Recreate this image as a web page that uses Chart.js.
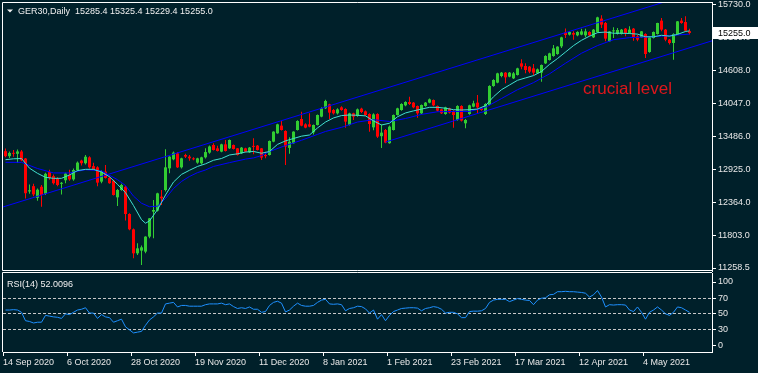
<!DOCTYPE html>
<html lang="en">
<head>
<meta charset="utf-8">
<title>GER30,Daily</title>
<script src="https://cdn.jsdelivr.net/npm/chart.js@4.4.1/dist/chart.umd.min.js"></script>
<style>
  html, body { margin: 0; padding: 0; background: #00202a; overflow: hidden; }
  #priceChart { position: absolute; left: 0; top: 0; }
  #rsiChart { position: absolute; left: 0; top: 272px; }
</style>
</head>
<body>
<canvas id="priceChart" width="758" height="273"></canvas>
<canvas id="rsiChart" width="758" height="101"></canvas>
<script>
// ---- data, one entry per daily bar (14 Sep 2020 .. 19 May 2021) ----
const opens = [
  13245,13160,13205,13200,13240,13120,12560,12650,12450,12640,
  12520,12890,12820,12780,12690,12750,12840,12765,12925,13085,
  13040,13140,12990,12970,12727,12897,12790,12744,12460,12585,
  12640,12177,11916,11508,11554,11537,11792,12217,12234,12472,
  12585,12953,13106,13208,12970,13180,13152,13123,13050,13038,
  13140,13220,13350,13293,13237,13361,13293,13350,13293,13208,
  13293,13225,13325,13339,13293,13180,13180,13407,13548,13679,
  13588,13300,13378,13605,13792,13701,13701,13565,13690,13832,
  13973,14041,13945,13888,13990,13962,13690,13888,13843,13968,
  13922,13877,13650,13877,13500,13605,13380,13605,13860,13945,
  14024,14081,14070,14013,13888,14013,14070,14115,14013,13956,
  13877,13973,13928,13775,14013,13719,13877,14002,14070,13973,
  13877,14030,14353,14410,14523,14580,14512,14483,14540,14738,
  14693,14682,14653,14568,14580,14738,14795,14863,14897,15027,
  15265,15226,15254,15214,15226,15214,15271,15180,15271,15498,
  15424,15112,15282,15237,15237,15328,15254,15328,15197,15180,
  15237,14931,15169,15237,15464,15311,15141,15084,15237,15464,
  15441,15285.4
];
const highs = [
  13290,13240,13265,13275,13265,13130,12680,12690,12610,12670,
  12880,12930,12850,12800,12720,12880,12930,12950,13070,13100,
  13180,13160,13050,12990,12920,13010,12810,12760,12600,12690,
  12660,12190,11930,11678,11640,11800,12110,12415,12540,12585,
  13276,13160,13240,13230,13135,13200,13180,13140,13135,13150,
  13293,13340,13378,13339,13370,13435,13445,13360,13300,13315,
  13305,13315,13463,13350,13300,13237,13425,13585,13710,13758,
  13600,13480,13585,13770,13917,13720,13888,13700,13870,13990,
  14120,14050,13960,13975,14010,13975,13900,13900,13970,13985,
  13935,13890,13890,13890,13700,13620,13680,13870,13985,14060,
  14095,14170,14080,14020,14040,14080,14140,14125,14020,13965,
  14000,13985,13940,14025,14025,13790,14035,14100,14200,13985,
  14060,14365,14466,14580,14590,14590,14590,14590,14665,14806,
  14738,14695,14727,14650,14720,14875,14920,15050,15030,15190,
  15330,15290,15282,15285,15328,15328,15285,15320,15530,15554,
  15440,15290,15350,15339,15320,15340,15367,15340,15226,15290,
  15250,15190,15280,15430,15509,15320,15150,15250,15460,15509,
  15537,15325.4
];
const lows = [
  13140,13130,13150,13045,13075,12440,12520,12480,12400,12300,
  12500,12760,12680,12650,12510,12700,12740,12740,12900,13000,
  13020,12950,12930,12650,12700,12780,12690,12490,12313,12570,
  12064,11900,11423,11480,11310,11508,11763,11763,12220,12330,
  12560,12868,13090,12960,12950,13130,13084,13090,13030,13020,
  13120,13200,13255,13240,13225,13240,13280,13275,13170,13195,
  13225,13215,13191,13255,13095,13123,13170,13395,13540,13595,
  13010,13200,13370,13595,13670,13635,13650,13530,13680,13820,
  13960,13792,13870,13870,13930,13645,13680,13775,13830,13895,
  13845,13577,13600,13470,13300,13380,13370,13595,13850,13930,
  14010,14030,13975,13815,13875,14000,14060,14010,13920,13875,
  13865,13885,13645,13760,13750,13633,13865,13990,13890,13930,
  13860,14020,14340,14400,14500,14398,14500,14470,14530,14636,
  14568,14568,14540,14555,14427,14725,14785,14850,14885,15000,
  15170,15210,15140,15200,15215,15180,15200,15170,15260,15339,
  15112,15100,15169,15230,15230,15197,15240,15124,15112,15170,
  14829,14920,15160,15230,15282,15112,15060,14801,15230,15410,
  15280,15229.4
];
const closes = [
  13160,13215,13200,13240,13090,12530,12580,12510,12590,12500,
  12860,12790,12700,12670,12700,12865,12765,12925,13050,13040,
  13150,12970,12940,12710,12897,12790,12700,12500,12585,12670,
  12177,11916,11508,11593,11610,11792,12103,12245,12528,12443,
  12970,13152,13220,12970,13123,13152,13123,13106,13123,13140,
  13230,13325,13265,13248,13361,13248,13435,13282,13180,13305,
  13237,13305,13318,13265,13135,13160,13418,13577,13701,13605,
  13322,13407,13577,13758,13679,13645,13662,13690,13860,13973,
  14098,13900,13888,13956,13945,13747,13888,13832,13956,13911,
  13860,13707,13870,13492,13560,13390,13662,13860,13973,14047,
  14081,14047,13990,13888,14030,14070,14126,14024,13934,13888,
  13990,13900,13860,14013,13764,13775,14024,14058,13990,13945,
  14047,14353,14455,14568,14580,14500,14580,14568,14653,14682,
  14625,14597,14580,14636,14710,14863,14908,14993,15022,15180,
  15220,15271,15226,15271,15282,15282,15214,15311,15520,15396,
  15158,15282,15294,15305,15311,15254,15311,15180,15141,15282,
  14897,15180,15271,15424,15311,15141,15084,15237,15452,15424,
  15294,15255.0
];

// moving averages (bar index, price)
const fastMaBars = [
  0,2,4,6,8,10,12,14,16,18,20,22,24,26,28,30,32,34,35,36,38,
  40,42,44,46,48,50,52,54,56,58,60,62,64,66,68,70,72,74,76,78,
  80,82,84,86,88,90,92,94,96,98,100,102,104,106,108,110,112,114,116,118,
  120,122,124,126,128,130,132,134,136,138,140,142,144,146,148,150,152,154,156,158,
  160,162,164,166,168,170,171
];
const fastMa = [
  13100,13115,13120,12955,12868,12800,12783,12783,12840,12915,12936,12936,12890,12810,12680,12540,12320,12080,12020,12060,12250,
  12500,12720,12850,12920,12985,13030,13090,13120,13180,13200,13230,13240,13210,13240,13360,13420,13460,13500,13520,13640,
  13740,13810,13850,13860,13855,13845,13760,13690,13720,13830,13895,13930,13960,13990,13990,13975,13950,13945,13950,13960,
  14020,14170,14290,14370,14450,14490,14530,14600,14720,14820,14930,15040,15130,15200,15260,15270,15250,15250,15245,15235,
  15190,15190,15215,15200,15230,15280,15290
];
const slowMaBars = [
  0,4,8,12,16,20,24,28,30,32,34,36,38,40,42,44,46,48,50,52,
  56,60,62,64,66,70,74,78,80,84,88,92,96,100,104,108,112,116,120,124,
  128,132,136,140,144,148,152,156,160,164,168,171
];
const slowMa = [
  13055,13055,12950,12875,12875,12930,12910,12760,12660,12480,12360,12300,12310,12440,12610,12730,12815,12880,12925,12985,
  13050,13110,13130,13170,13240,13340,13430,13530,13580,13650,13740,13780,13750,13800,13870,13915,13920,13920,13990,14140,
  14290,14410,14560,14740,14910,15040,15140,15175,15185,15200,15220,15235
];

// hand drawn channel
const upperChannelBars = [-0.625, 171];
const upperChannel = [12296, 15914];
const lowerChannelBars = [95, 176.625];
const lowerChannel = [13400, 15121];

const rsi = [
  55,55,55.5,55,52,41,40,38,39,39,
  48,47,46,45.5,44,50,49,52,55,56,
  58,51,51,44,49,46,45,39,41,43,
  33,29,25,26,27,35,42,46,51,51,
  63,64,65,59,61,61,60,60,60,60,
  62,63,63,63,64,62,63,59.5,57,58,
  57,59,56,56,52,53,61,65,66.5,64,
  52.5,55,60,64,61,60,60,61,65,68,
  69,63,62.5,63,62,54,57,58,60,59.5,
  56.5,51,55,43,49,41,48,53,55,57,
  57.5,58,58,57.5,54,57,58,59.5,58.5,56,
  51,52,52,50,45,45,53,53.5,53.5,54,
  57,65,68,69,69,69,66,68,70,69,
  68,67.5,62,68,70.5,71,75,75.5,79,79,
  79.5,79,79,78.5,78,77,72,75,80.5,72,
  59,62,61.5,62,62,61.5,55,53,59,52,
  43,52,55,59,55,50,48,52,59,58,
  55,52.0096
];

const priceTicks = [15730, 15169, 14608, 14047, 13486, 12925, 12364, 11803, 11258.5];
const dateTicks = ['14 Sep 2020', '6 Oct 2020', '28 Oct 2020', '19 Nov 2020', '11 Dec 2020', '8 Jan 2021',
                   '1 Feb 2021', '23 Feb 2021', '17 Mar 2021', '12 Apr 2021', '4 May 2021'];
const dateTickBars = [0, 16, 32, 48, 64, 80, 96, 112, 128, 144, 160];
const rsiLevels = [70, 50, 30];
const rsiTickValues = [91.7, 70, 50, 30, 7.9];   // 100 and 0 are drawn inset like the terminal does
const rsiTickText = ['100', '70', '50', '30', '0'];

// ---- drawing ----
Chart.defaults.font.family = "'Liberation Sans', Arial, sans-serif";
Chart.defaults.font.size = 9;
Chart.defaults.color = '#e8e8e8';

const BG = '#00202a';
const BULL = '#32cd32';
const BEAR = '#ff0000';
const X_MIN = -0.625;            // 4 px per bar over a 709 px wide plot
const X_MAX = X_MIN + 709 / 4;

const candleColor = i => closes[i] >= opens[i] ? BULL : BEAR;
const pts = (xs, ys) => xs.map((x, k) => ({ x: x, y: ys[k] }));
const lineDs = (data, color, order) => ({
  type: 'line', data: data, borderColor: color, borderWidth: 1,
  pointRadius: 0, tension: 0, order: order
});

const paintBg = {
  id: 'paintBg',
  beforeDraw(chart) {
    const ctx = chart.ctx;
    ctx.save();
    ctx.fillStyle = BG;
    ctx.fillRect(0, 0, chart.width, chart.height);
    ctx.restore();
  }
};

const priceDeco = {
  id: 'priceDeco',
  afterDraw(chart) {
    const { ctx, chartArea: a } = chart;
    const x = chart.scales.x, y = chart.scales.y;
    ctx.save();
    // frame
    ctx.strokeStyle = '#ffffff';
    ctx.lineWidth = 1;
    ctx.beginPath();
    ctx.moveTo(a.right, a.top + 0.5);
    ctx.lineTo(a.left - 0.5, a.top + 0.5);
    ctx.lineTo(a.left - 0.5, a.bottom - 0.5);
    ctx.lineTo(a.right, a.bottom - 0.5);
    ctx.stroke();

    // title
    ctx.fillStyle = '#f0f0f0';
    ctx.beginPath();
    ctx.moveTo(7, 9.5); ctx.lineTo(13, 9.5); ctx.lineTo(10, 12.5); ctx.closePath();
    ctx.fill();
    ctx.font = "9px 'Liberation Sans'";
    ctx.textBaseline = 'alphabetic';
    ctx.fillText('GER30,Daily  15285.4 15325.4 15229.4 15255.0', 18, 14);

    // note on the chart
    ctx.fillStyle = '#e0161b';
    ctx.font = "17px 'Liberation Sans'";
    ctx.fillText('crucial level', x.getPixelForValue(144.4), y.getPixelForValue(14217));

    // last price marker on the axis
    const last = closes[closes.length - 1];
    const yp = Math.round(y.getPixelForValue(last));
    ctx.fillStyle = '#ffffff';
    ctx.fillRect(a.right + 1, yp - 6, chart.width - a.right - 1, 12);
    ctx.fillStyle = '#000000';
    ctx.font = "9px 'Liberation Sans'";
    ctx.textBaseline = 'middle';
    ctx.fillText(last.toFixed(1), a.right + 6, yp + 0.5);
    ctx.restore();
  }
};

const rsiDeco = {
  id: 'rsiDeco',
  afterDraw(chart) {
    const { ctx, chartArea: a } = chart;
    ctx.save();
    ctx.strokeStyle = '#ffffff';
    ctx.lineWidth = 1;
    ctx.beginPath();
    ctx.moveTo(a.right, a.top - 0.5);
    ctx.lineTo(a.left - 0.5, a.top - 0.5);
    ctx.lineTo(a.left - 0.5, a.bottom);
    ctx.stroke();
    ctx.fillStyle = '#f0f0f0';
    ctx.font = "9px 'Liberation Sans'";
    ctx.fillText('RSI(14) ' + rsi[rsi.length - 1].toFixed(4), 7, 14.5);
    ctx.restore();
  }
};

new Chart(document.getElementById('priceChart'), {
  type: 'bar',
  data: {
    datasets: [
      lineDs(pts(fastMaBars, fastMa), '#40e0d0', 0),
      lineDs(pts(slowMaBars, slowMa), '#0000ff', 1),
      lineDs(pts(upperChannelBars, upperChannel), '#0000ff', 1),
      lineDs(pts(lowerChannelBars, lowerChannel), '#0000ff', 1),
      {
        data: closes.map((c, i) => ({ x: i, y: [opens[i], c] })),
        backgroundColor: ctx => candleColor(ctx.dataIndex),
        barThickness: 3, minBarLength: 1, grouped: false, inflateAmount: 0, order: 2
      },
      {
        data: highs.map((h, i) => ({ x: i, y: [lows[i], h] })),
        backgroundColor: ctx => candleColor(ctx.dataIndex),
        barThickness: 1, grouped: false, inflateAmount: 0, order: 3
      }
    ]
  },
  options: {
    responsive: false,
    animation: false,
    events: [],
    layout: { padding: { left: 3, top: 2, right: 0, bottom: 2 } },
    plugins: { legend: { display: false }, tooltip: { enabled: false } },
    scales: {
      x: { type: 'linear', min: X_MIN, max: X_MAX, offset: false, display: false },
      y: {
        position: 'right',
        min: 11207.5,
        max: 15781,
        afterBuildTicks: s => { s.ticks = priceTicks.map(v => ({ value: v })); },
        afterFit: s => { s.width = 46; s.paddingTop = 0; s.paddingBottom = 0; },
        ticks: { padding: 2, color: '#e8e8e8', callback: v => v.toFixed(1) },
        grid: { drawOnChartArea: false, color: '#ffffff', tickLength: 4 },
        border: { color: '#ffffff' }
      }
    }
  },
  plugins: [paintBg, priceDeco]
});

new Chart(document.getElementById('rsiChart'), {
  type: 'line',
  data: {
    datasets: [{
      data: rsi.map((v, i) => ({ x: i, y: v })),
      borderColor: '#1e90ff', borderWidth: 1, pointRadius: 0, tension: 0
    }]
  },
  options: {
    responsive: false,
    animation: false,
    events: [],
    layout: { padding: { left: 3, top: 1, right: 0, bottom: 0 } },
    plugins: { legend: { display: false }, tooltip: { enabled: false } },
    scales: {
      x: {
        type: 'linear', min: X_MIN, max: X_MAX, offset: false,
        afterBuildTicks: s => { s.ticks = dateTickBars.map(b => ({ value: b + X_MIN })); },
        afterFit: s => { s.height = 21; s.paddingLeft = 0; s.paddingRight = 0; },
        ticks: { autoSkip: false, maxRotation: 0, align: 'start', padding: 1, color: '#e8e8e8',
                 callback: (v, i) => dateTicks[i] },
        grid: { drawOnChartArea: false, color: '#ffffff', tickLength: 4, offset: false },
        border: { color: '#ffffff' }
      },
      y: {
        position: 'right', min: 0, max: 103.5,
        afterBuildTicks: s => { s.ticks = rsiTickValues.map(v => ({ value: v })); },
        afterFit: s => { s.width = 46; s.paddingTop = 0; s.paddingBottom = 0; },
        ticks: { padding: 2, color: '#e8e8e8', callback: (v, i) => rsiTickText[i] },
        grid: {
          color: c => (c.tick && rsiLevels.includes(c.tick.value)) ? '#c8c8c8' : 'rgba(0,0,0,0)',
          tickColor: '#ffffff', tickLength: 4
        },
        border: { color: '#ffffff', dash: [3, 2] }
      }
    }
  },
  plugins: [paintBg, rsiDeco]
});
</script>
</body>
</html>
